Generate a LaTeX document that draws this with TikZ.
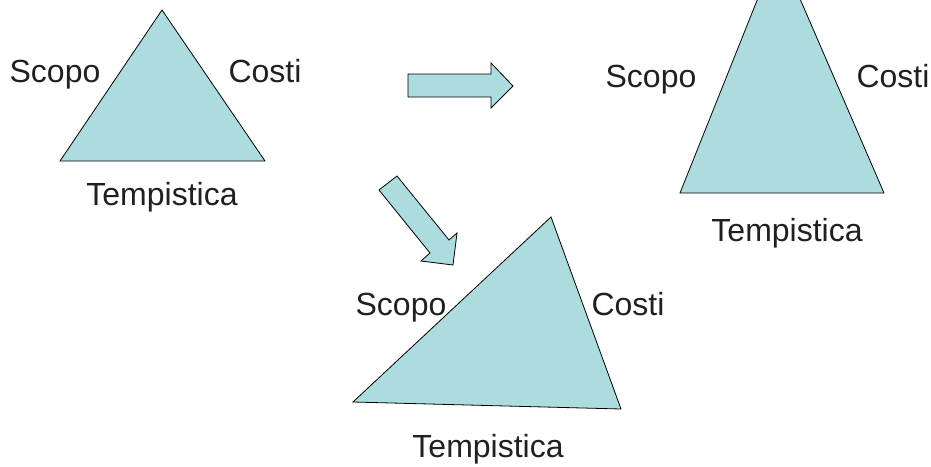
\documentclass[tikz,border=0pt]{standalone}
\usepackage{fontspec}
\setmainfont{Liberation Sans}
\definecolor{tealfill}{HTML}{ACDCDD}
\definecolor{labeltext}{HTML}{202020}
\tikzset{
  shapefill/.style={fill=tealfill, draw=black, line width=0.8pt, line join=miter},
  lbl/.style={text=labeltext, font=\fontsize{32}{38}\selectfont, inner sep=0pt, anchor=base}
}
\begin{document}
\begin{tikzpicture}[x=1pt, y=-1pt]
\useasboundingbox (0,0) rectangle (931,466);
\clip (0,0) rectangle (931,466);

% original triangle
\coordinate (a1) at (162,10);
\coordinate (b1) at (60,161);
\coordinate (c1) at (265,161);
\draw[shapefill] (a1) -- (b1) -- (c1) -- cycle;
\node[lbl] (s1) at (55,82) {Scopo};
\node[lbl] (k1) at (265,82) {Costi};
\node[lbl] (t1) at (162,205) {Tempistica};

% tall triangle
\coordinate (a2) at (778,-52);
\coordinate (b2) at (680,193);
\coordinate (c2) at (884,193);
\draw[shapefill] (a2) -- (b2) -- (c2) -- cycle;
\node[lbl] (s2) at (651,87) {Scopo};
\node[lbl] (k2) at (893,87) {Costi};
\node[lbl] (t2) at (787,241) {Tempistica};

% skewed triangle
\coordinate (a3) at (551,217);
\coordinate (b3) at (353,402);
\coordinate (c3) at (621,409);
\draw[shapefill] (a3) -- (b3) -- (c3) -- cycle;
\node[lbl] (s3) at (401,315) {Scopo};
\node[lbl] (k3) at (628,315) {Costi};
\node[lbl] (t3) at (488,457) {Tempistica};

% block arrow to the right
\coordinate (r1) at (408,74);
\coordinate (r2) at (491,74);
\coordinate (r3) at (491,63);
\coordinate (r4) at (513,86);
\coordinate (r5) at (491,108);
\coordinate (r6) at (491,97);
\coordinate (r7) at (408,97);
\draw[shapefill] (r1) -- (r2) -- (r3) -- (r4) -- (r5) -- (r6) -- (r7) -- cycle;

% block arrow pointing down-right
\coordinate (d1) at (379,190);
\coordinate (d2) at (397,176);
\coordinate (d3) at (449,240);
\coordinate (d4) at (457,233);
\coordinate (d5) at (453,265);
\coordinate (d6) at (421,261);
\coordinate (d7) at (430,253);
\draw[shapefill] (d1) -- (d2) -- (d3) -- (d4) -- (d5) -- (d6) -- (d7) -- cycle;
\end{tikzpicture}
\end{document}
